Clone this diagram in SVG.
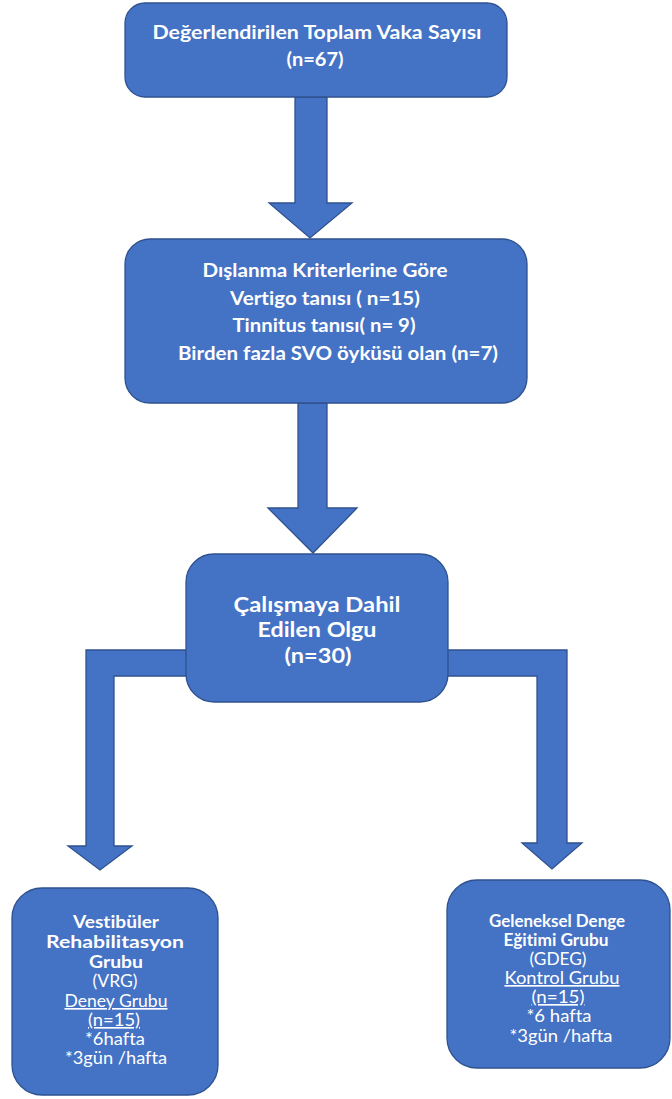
<svg xmlns="http://www.w3.org/2000/svg" width="672" height="1099" viewBox="0 0 672 1099">
<style>
.shape{fill:#4472C4;stroke:#2F528F;stroke-width:1.3}
.t{fill:#FFFFFF;font-family:Lato,"Open Sans","Liberation Sans",sans-serif;text-anchor:middle;font-variant-ligatures:none}
.b{font-weight:bold}
.big{font-size:19.5px}
.mid{font-size:20px}
.sm{font-size:16.5px}
.u{text-decoration:underline}
</style>
<rect width="672" height="1099" fill="#FFFFFF"/>
<g id="connectors">
<path class="shape" d="M295,97 H327 V203 H352 L310,238 L269,203 H295 Z"/>
<path class="shape" d="M298,403 H327 V508 H357 L313,553 L268,508 H298 Z"/>
<path class="shape" d="M86,650 H567 V843 H582 L552,869 L522,843 H537 V676 H114 V846 H132 L100,870 L68,846 H86 Z"/>
</g>
<g id="node-total">
<rect class="shape" x="125" y="3" width="382" height="94" rx="20"/>
<text class="t b big" x="317" y="39" textLength="329" lengthAdjust="spacingAndGlyphs">Değerlendirilen Toplam Vaka Sayısı</text>
<text class="t b big" x="315" y="66" textLength="57" lengthAdjust="spacingAndGlyphs">(n=67)</text>
</g>
<g id="node-exclusion">
<rect class="shape" x="125" y="239" width="402" height="164" rx="25"/>
<text class="t b big" x="325" y="277" textLength="245" lengthAdjust="spacingAndGlyphs">Dışlanma Kriterlerine Göre</text>
<text class="t b big" x="325" y="305" textLength="190" lengthAdjust="spacingAndGlyphs">Vertigo tanısı ( n=15)</text>
<text class="t b big" x="324" y="332" textLength="183" lengthAdjust="spacingAndGlyphs">Tinnitus tanısı( n= 9)</text>
<text class="t b big" x="338" y="360" textLength="320" lengthAdjust="spacingAndGlyphs">Birden fazla SVO öyküsü olan (n=7)</text>
</g>
<g id="node-included">
<rect class="shape" x="186" y="554" width="262" height="148" rx="28"/>
<text class="t b mid" x="317" y="612" textLength="167" lengthAdjust="spacingAndGlyphs">Çalışmaya Dahil</text>
<text class="t b mid" x="317" y="637" textLength="119" lengthAdjust="spacingAndGlyphs">Edilen Olgu</text>
<text class="t b mid" x="318" y="663" textLength="67" lengthAdjust="spacingAndGlyphs">(n=30)</text>
</g>
<g id="node-vrg">
<rect class="shape" x="12" y="888" width="206" height="207" rx="30"/>
<text class="t b sm" x="116" y="928" textLength="86" lengthAdjust="spacingAndGlyphs">Vestibüler</text>
<text class="t b sm" x="115" y="948" textLength="138" lengthAdjust="spacingAndGlyphs">Rehabilitasyon</text>
<text class="t b sm" x="116" y="968" textLength="54" lengthAdjust="spacingAndGlyphs">Grubu</text>
<text class="t sm" x="115" y="987" textLength="45" lengthAdjust="spacingAndGlyphs">(VRG)</text>
<text class="t sm u" x="116" y="1007" textLength="103" lengthAdjust="spacingAndGlyphs">Deney Grubu</text>
<text class="t sm u" x="114" y="1026" textLength="52" lengthAdjust="spacingAndGlyphs">(n=15)</text>
<text class="t sm" x="115" y="1045" textLength="60" lengthAdjust="spacingAndGlyphs">*6hafta</text>
<text class="t sm" x="116" y="1064" textLength="102" lengthAdjust="spacingAndGlyphs">*3gün /hafta</text>
</g>
<g id="node-gdeg">
<rect class="shape" x="447" y="880" width="223" height="188" rx="30"/>
<text class="t b sm" x="557" y="927" textLength="136" lengthAdjust="spacingAndGlyphs">Geleneksel Denge</text>
<text class="t b sm" x="556" y="946" textLength="105" lengthAdjust="spacingAndGlyphs">Eğitimi Grubu</text>
<text class="t sm" x="558" y="965" textLength="57" lengthAdjust="spacingAndGlyphs">(GDEG)</text>
<text class="t sm u" x="562" y="984" textLength="115" lengthAdjust="spacingAndGlyphs">Kontrol Grubu</text>
<text class="t sm u" x="558" y="1003" textLength="53" lengthAdjust="spacingAndGlyphs">(n=15)</text>
<text class="t sm" x="559" y="1022" textLength="65" lengthAdjust="spacingAndGlyphs">*6 hafta</text>
<text class="t sm" x="561" y="1042" textLength="103" lengthAdjust="spacingAndGlyphs">*3gün /hafta</text>
</g>
</svg>
